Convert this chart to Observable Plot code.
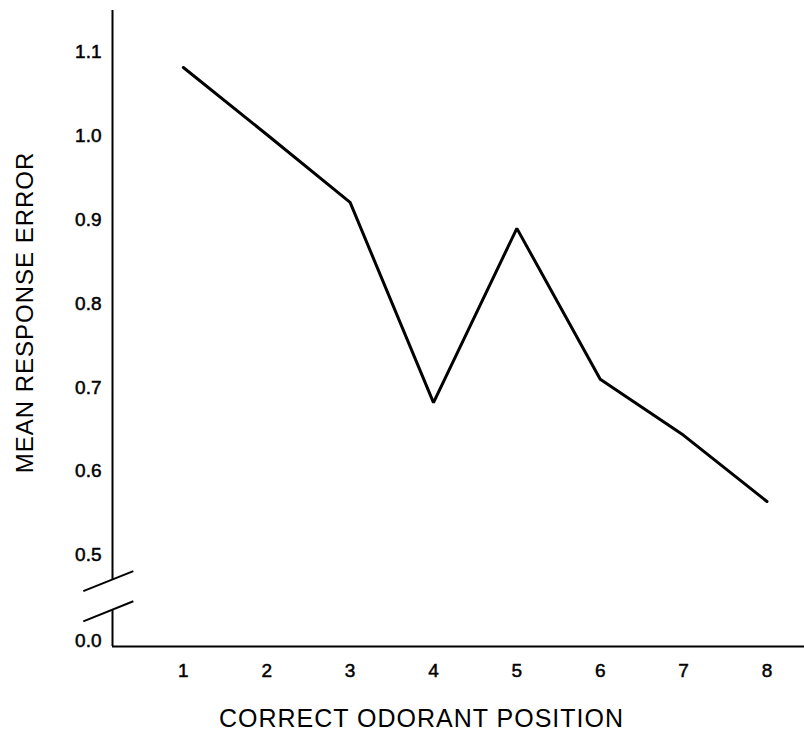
<!DOCTYPE html>
<html>
<head>
<meta charset="utf-8">
<script src="https://cdn.jsdelivr.net/npm/d3@7"></script>
<script src="https://cdn.jsdelivr.net/npm/@observablehq/plot@0.6"></script>
<style>
  html, body { margin: 0; padding: 0; background: #fff; }
  #chart svg { display: block; }
  #chart svg g[aria-label="x-axis tick label"] text,
  #chart svg g[aria-label="y-axis tick label"] text { stroke: #000; stroke-width: 0.5px; }
</style>
</head>
<body>
<div id="chart"></div>
<script>
// Data
const positions = [1, 2, 3, 4, 5, 6, 7, 8];
const meanError = [1.082, 1.002, 0.921, 0.682, 0.890, 0.710, 0.643, 0.564];

// Axis ticks (the bottom tick "0.0" sits below the axis break)
const xTickValues = [1, 2, 3, 4, 5, 6, 7, 8];
const xTickLabels = ["1", "2", "3", "4", "5", "6", "7", "8"];
const yTickValues = [0.398, 0.5, 0.6, 0.7, 0.8, 0.9, 1.0, 1.1];
const yTickLabels = ["0.0", "0.5", "0.6", "0.7", "0.8", "0.9", "1.0", "1.1"];

// Axis break (in data units) and the two slash marks
const xDomain = [0.15, 8.45];
const yDomain = [0.391, 1.15];
const breakGap = [0.434, 0.47];
const breakSlashes = [
  {x1: -0.2, y1: 0.457, x2: 0.4, y2: 0.481},
  {x1: -0.2, y1: 0.421, x2: 0.4, y2: 0.445}
];

const data = positions.map((p, i) => ({position: p, error: meanError[i]}));
const yLabelMap = new Map(yTickValues.map((v, i) => [v, yTickLabels[i]]));
const xLabelMap = new Map(xTickValues.map((v, i) => [v, xTickLabels[i]]));

const chart = Plot.plot({
  width: 804,
  height: 741,
  marginLeft: 112,
  marginRight: 0,
  marginTop: 10,
  marginBottom: 95,
  x: {domain: xDomain},
  y: {domain: yDomain},
  style: {fontFamily: "'Liberation Sans', Arial, sans-serif", color: "#000", background: "#fff"},
  marks: [
    Plot.axisX(xTickValues, {
      tickSize: 0, tickPadding: 17, label: null,
      tickFormat: d => xLabelMap.get(d),
      fontSize: 19
    }),
    Plot.axisY(yTickValues, {
      tickSize: 0, tickPadding: 11, label: null,
      tickFormat: d => yLabelMap.get(d),
      fontSize: 19
    }),
    // axis lines with a break on the y axis
    Plot.ruleY([yDomain[0]], {stroke: "#000", strokeWidth: 2}),
    Plot.ruleX([xDomain[0]], {y1: yDomain[0], y2: breakGap[0], stroke: "#000", strokeWidth: 2}),
    Plot.ruleX([xDomain[0]], {y1: breakGap[1], y2: yDomain[1], stroke: "#000", strokeWidth: 2}),
    Plot.link(breakSlashes, {x1: "x1", y1: "y1", x2: "x2", y2: "y2", stroke: "#000", strokeWidth: 2}),
    // data line
    Plot.line(data, {x: "position", y: "error", stroke: "#000", strokeWidth: 3, strokeLinejoin: "miter"}),
    // axis titles
    Plot.text(["MEAN RESPONSE ERROR"], {
      frameAnchor: "left", textAnchor: "middle", dx: -87, dy: -16, rotate: -90,
      fontSize: 24, text: d => d
    }),
    Plot.text(["CORRECT ODORANT POSITION"], {
      frameAnchor: "bottom", textAnchor: "middle", dx: -37, dy: 80,
      fontSize: 25, text: d => d
    })
  ]
});

chart.querySelectorAll("text").forEach(t => {
  if (t.textContent === "MEAN RESPONSE ERROR" || t.textContent === "CORRECT ODORANT POSITION") {
    t.setAttribute("letter-spacing", "1");
  }
});

document.getElementById("chart").appendChild(chart);
</script>
</body>
</html>
